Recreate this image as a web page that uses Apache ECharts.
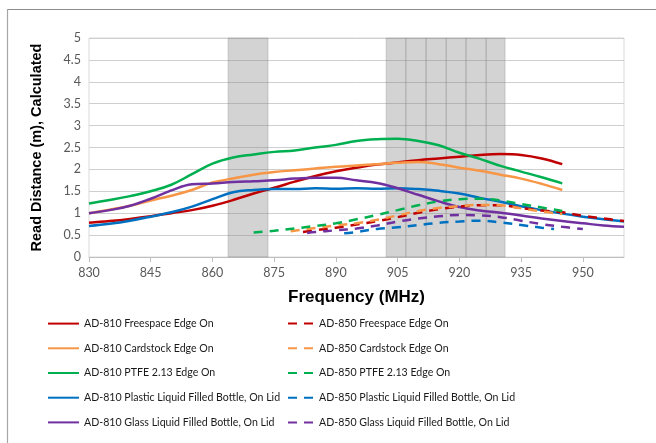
<!DOCTYPE html>
<html><head><meta charset="utf-8">
<script src="https://cdn.jsdelivr.net/npm/echarts@6/dist/echarts.min.js"></script>
<style>html,body{margin:0;padding:0;background:#fff}#c{width:656px;height:443px}</style>
</head><body><div id="c"></div>
<script>
// ---- data (frequency in MHz, read distance in m) ----
const X0 = 830, X1 = 960, XSTEP = 15;
const yTicksMax = 5, yStep = 0.5;

const f810full = [830,835,840,845,850,855,860,865,870,875,880,885,890,895,900,905,910,915,920,925,930,935,940,945,950,955,960];
const f810short = [830,835,840,845,850,855,860,865,870,875,880,885,890,895,900,905,910,915,920,925,930,935,940,945];

const ad810Freespace = [0.78,0.82,0.87,0.93,1.00,1.07,1.17,1.30,1.45,1.58,1.72,1.85,1.96,2.04,2.11,2.16,2.21,2.25,2.29,2.33,2.35,2.33,2.25,2.12];
const ad810Cardstock = [1.00,1.08,1.17,1.29,1.40,1.53,1.70,1.79,1.88,1.94,1.98,2.02,2.06,2.09,2.12,2.15,2.17,2.12,2.04,1.97,1.88,1.79,1.67,1.53];
const ad810PTFE      = [1.22,1.30,1.39,1.50,1.65,1.89,2.13,2.27,2.34,2.40,2.43,2.50,2.56,2.65,2.69,2.70,2.65,2.55,2.38,2.24,2.08,1.95,1.82,1.68];
const ad810Plastic   = [0.71,0.76,0.83,0.92,1.02,1.15,1.32,1.48,1.53,1.55,1.55,1.57,1.56,1.57,1.56,1.57,1.55,1.51,1.45,1.35,1.26,1.16,1.07,0.99,0.92,0.86,0.81];
const ad810Glass     = [1.00,1.07,1.17,1.33,1.52,1.66,1.68,1.71,1.73,1.75,1.79,1.81,1.81,1.75,1.69,1.57,1.42,1.27,1.14,1.06,1.01,0.95,0.88,0.82,0.77,0.72,0.69];

const f850Freespace = [882,885,890,895,900,905,910,915,920,925,930,935,940,945,950,955,960];
const ad850Freespace = [0.57,0.61,0.67,0.74,0.82,0.91,1.01,1.09,1.15,1.18,1.18,1.12,1.06,1.02,0.94,0.88,0.82];
const f850Cardstock = [879,885,890,895,900,905,910,915,920,925,930,935,940,945];
const ad850Cardstock = [0.59,0.66,0.72,0.77,0.85,0.95,1.05,1.12,1.16,1.19,1.18,1.11,1.04,0.98];
const f850PTFE = [870,875,880,885,890,895,900,905,910,915,920,925,930,935,940,945];
const ad850PTFE = [0.56,0.60,0.65,0.71,0.77,0.86,0.96,1.07,1.18,1.27,1.32,1.33,1.29,1.21,1.13,1.05];
const f850Plastic = [892,895,900,905,910,915,920,925,930,935,940,943];
const ad850Plastic = [0.54,0.57,0.64,0.68,0.73,0.78,0.81,0.83,0.79,0.73,0.67,0.64];
const f850Glass = [883,885,890,895,900,905,910,915,920,925,930,935,940,945,950];
const ad850Glass = [0.55,0.57,0.61,0.65,0.72,0.81,0.88,0.93,0.96,0.95,0.91,0.83,0.75,0.69,0.64];

// shaded frequency bands (MHz edges)
const band1Edges = [863.8, 873.5];
const band2Edges = [902.2, 907.0, 911.9, 916.8, 921.6, 926.5, 931.1];

const names810 = ['AD-810 Freespace Edge On','AD-810 Cardstock Edge On','AD-810 PTFE 2.13 Edge On','AD-810 Plastic Liquid Filled Bottle, On Lid','AD-810 Glass Liquid Filled Bottle, On Lid'];
const names850 = ['AD-850 Freespace Edge On','AD-850 Cardstock Edge On','AD-850 PTFE 2.13 Edge On','AD-850 Plastic Liquid Filled Bottle, On Lid','AD-850 Glass Liquid Filled Bottle, On Lid'];
const colors = ['#c00000','#f79646','#00b050','#0070c0','#7030a0'];

// ---- build ----
const FONT = "Lato,'Liberation Sans',Arial,sans-serif";
const TITLEFONT = "'Liberation Sans',Arial,sans-serif";
const pair = (fs, vs) => fs.map((f, i) => [f - X0, vs[i]]);
const solidSets = [[f810short, ad810Freespace],[f810short, ad810Cardstock],[f810short, ad810PTFE],[f810full, ad810Plastic],[f810full, ad810Glass]];
const dashSets = [[f850Freespace, ad850Freespace],[f850Cardstock, ad850Cardstock],[f850PTFE, ad850PTFE],[f850Plastic, ad850Plastic],[f850Glass, ad850Glass]];

const areas = [];
areas.push([{xAxis: band1Edges[0]-X0}, {xAxis: band1Edges[1]-X0}]);
for (let i = 0; i < band2Edges.length-1; i++) areas.push([{xAxis: band2Edges[i]-X0}, {xAxis: band2Edges[i+1]-X0}]);

const series = [{
  type: 'line', name: 'bands', data: [], silent: true,
  markArea: { silent: true, itemStyle: { color: 'rgba(128,128,128,0.35)', borderColor: 'rgba(140,140,140,0.35)', borderWidth: 1 }, data: areas }
}];
solidSets.forEach((s, i) => series.push({
  type: 'line', name: names810[i], data: pair(s[0], s[1]), symbol: 'none', smooth: 0.4,
  lineStyle: { color: colors[i], width: 2.5 }, itemStyle: { color: colors[i] }
}));
dashSets.forEach((s, i) => series.push({
  type: 'line', name: names850[i], data: pair(s[0], s[1]), symbol: 'none', smooth: 0.4,
  lineStyle: { color: colors[i], width: 2.5, type: [9, 7], cap: 'butt' }, itemStyle: { color: colors[i] }
}));

const legendBase = {
  orient: 'vertical', top: 318, itemHeight: 14, itemGap: 13.5, padding: 0,
  itemStyle: { opacity: 0 },
  textStyle: { fontSize: 10.6, color: '#1a1a1a', fontFamily: FONT }
};

const chart = echarts.init(document.getElementById('c'), null, { renderer: 'canvas' });
chart.setOption({
  animation: false,
  backgroundColor: '#fff',
  grid: { left: 89, right: 32, top: 38, bottom: 186, show: true, borderColor: '#d9d9d9', borderWidth: 1 },
  xAxis: {
    type: 'value', min: 0, max: X1 - X0, interval: XSTEP,
    name: 'Frequency (MHz)', nameLocation: 'middle', nameGap: 32,
    nameTextStyle: { fontSize: 17, fontWeight: 'bold', color: '#000', fontFamily: TITLEFONT },
    axisLine: { lineStyle: { color: '#bfbfbf', width: 1 } },
    axisTick: { show: true, length: 5, lineStyle: { color: '#bfbfbf' } },
    axisLabel: { formatter: v => String(v + X0), showMaxLabel: false, fontSize: 12.5, color: '#595959', margin: 9, fontFamily: FONT },
    splitLine: { show: false }
  },
  yAxis: {
    type: 'value', min: 0, max: yTicksMax, interval: yStep,
    name: 'Read Distance (m), Calculated', nameLocation: 'middle', nameGap: 45, nameRotate: 90,
    nameTextStyle: { fontSize: 14.5, fontWeight: 'bold', color: '#000', fontFamily: TITLEFONT },
    axisLine: { show: false }, axisTick: { show: false },
    axisLabel: { fontSize: 12.5, color: '#595959', margin: 8, fontFamily: FONT },
    splitLine: { lineStyle: { color: '#cfcfcf', width: 1 } }
  },
  legend: [
    Object.assign({}, legendBase, { data: names810, left: 47, itemWidth: 31 }),
    Object.assign({}, legendBase, { data: names850, left: 287, itemWidth: 26 })
  ],
  graphic: [
    { type: 'line', shape: { x1: 7, y1: 9.5, x2: 656, y2: 9.5 }, style: { stroke: '#8c8c8c', lineWidth: 1.2 } },
    { type: 'line', shape: { x1: 7.5, y1: 9, x2: 7.5, y2: 443 }, style: { stroke: '#a6a6a6', lineWidth: 1.2 } }
  ],
  series: series
});
</script>
</body></html>
